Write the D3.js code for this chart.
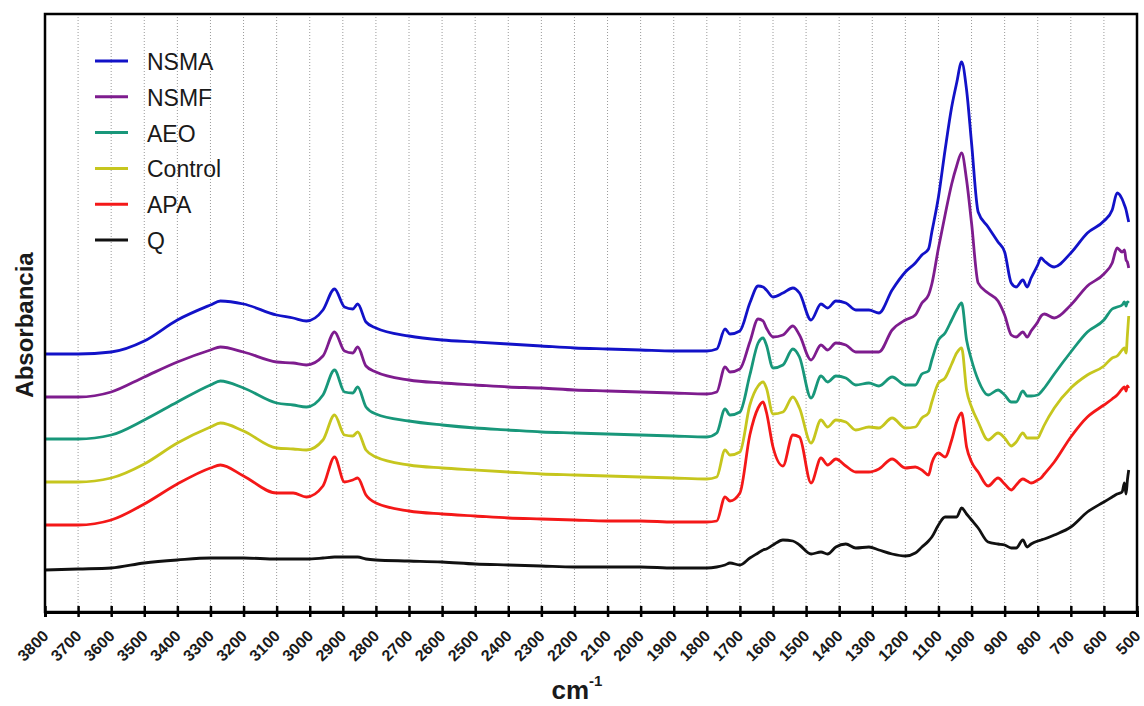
<!DOCTYPE html>
<html>
<head>
<meta charset="utf-8">
<script src="https://cdn.jsdelivr.net/npm/d3@7"></script>
<style>
    body { margin: 0; background: #fff; }
    text { font-family: Arial, "Liberation Sans", sans-serif; }
</style>
</head>
<body>
<script>
// wavenumber grid (cm-1), shared by all spectra
const wavenumbers = [3800, 3700, 3600, 3500, 3400, 3300, 3270, 3200, 3100, 3050, 3010, 2960, 2925, 2895, 2870, 2855, 2830, 2800, 2700, 2600, 2500, 2400, 2300, 2200, 2100, 2000, 1900, 1800, 1770, 1745, 1730, 1700, 1670, 1645, 1630, 1620, 1600, 1570, 1540, 1520, 1485, 1455, 1435, 1410, 1380, 1350, 1310, 1280, 1240, 1200, 1170, 1150, 1130, 1120, 1100, 1080, 1060, 1045, 1030, 1015, 1000, 980, 950, 920, 900, 880, 865, 845, 832, 820, 800, 790, 780, 750, 700, 650, 600, 575, 560, 545, 538, 533, 529, 525];

// stacked absorbance (arbitrary units, offset per sample)
const nsma = [258, 258, 260, 271, 292, 307, 311, 308, 297, 294, 291, 302, 323, 305, 303, 308, 290, 284, 276, 272, 270, 268, 266, 264, 263, 262, 261, 261, 263, 283, 278, 281, 309, 326, 325, 322, 315, 319, 324, 319, 292, 308, 304, 311, 309, 302, 302, 299, 322, 340, 349, 357, 363, 380, 415, 462, 505, 529, 550, 522, 469, 400, 385, 370, 360, 329, 325, 332, 325, 334, 347, 354, 351, 345, 359, 379, 391, 402, 419, 413, 407, 402, 396, 390];
const nsmf = [215, 215, 220, 235, 250, 262, 265, 260, 250, 249, 247, 256, 280, 261, 259, 265, 246, 240, 232, 229, 227, 225, 224, 222, 221, 220, 219, 218, 220, 245, 240, 243, 270, 293, 291, 284, 275, 277, 286, 277, 252, 267, 262, 269, 267, 260, 260, 260, 282, 292, 297, 309, 317, 328, 364, 397, 428, 446, 459, 432, 389, 329, 319, 311, 297, 277, 275, 280, 275, 281, 290, 296, 298, 294, 307, 326, 338, 349, 364, 360, 362, 352, 350, 344];
const aeo = [173, 173, 177, 192, 210, 227, 231, 224, 209, 207, 205, 217, 242, 220, 219, 225, 205, 198, 191, 187, 184, 182, 180, 179, 178, 177, 176, 175, 179, 203, 197, 200, 237, 269, 274, 267, 244, 247, 263, 255, 214, 236, 230, 236, 234, 227, 229, 226, 235, 227, 227, 238, 241, 252, 272, 279, 292, 302, 309, 272, 252, 232, 217, 222, 217, 210, 210, 221, 216, 216, 217, 220, 224, 238, 260, 280, 292, 303, 305, 307, 310, 306, 310, 309];
const control = [130, 130, 134, 148, 169, 185, 189, 181, 164, 163, 162, 172, 197, 177, 176, 180, 162, 155, 147, 144, 142, 140, 138, 137, 136, 135, 134, 133, 135, 162, 157, 160, 207, 226, 230, 224, 198, 200, 215, 204, 169, 192, 185, 192, 190, 182, 185, 184, 194, 184, 185, 194, 199, 210, 229, 234, 248, 259, 264, 222, 205, 190, 172, 179, 174, 166, 170, 179, 174, 174, 174, 180, 187, 204, 224, 237, 246, 254, 256, 262, 264, 259, 277, 296];
const apa = [87, 87, 92, 108, 128, 144, 147, 136, 119, 119, 115, 126, 155, 130, 132, 134, 117, 109, 101, 98, 96, 94, 93, 92, 91, 91, 90, 90, 91, 115, 111, 119, 177, 204, 210, 200, 165, 146, 177, 175, 129, 154, 147, 153, 146, 140, 140, 143, 153, 144, 145, 142, 137, 149, 159, 155, 172, 190, 199, 165, 150, 140, 126, 134, 128, 122, 127, 133, 131, 129, 132, 134, 138, 150, 175, 195, 207, 213, 217, 223, 225, 221, 226, 224];
const q = [42, 43, 44, 49, 52, 54, 54, 54, 53, 53, 53, 54, 55, 55, 55, 55, 53, 52, 51, 50, 48, 47, 46, 45, 45, 45, 44, 44, 45, 47, 49, 47, 54, 59, 62, 63, 67, 72, 71, 67, 58, 60, 58, 65, 68, 64, 65, 62, 58, 56, 59, 65, 71, 75, 87, 95, 95, 95, 104, 98, 92, 84, 70, 68, 67, 64, 64, 72, 65, 68, 71, 72, 73, 77, 85, 100, 110, 115, 118, 120, 129, 118, 132, 142];

const seriesNames = ['NSMA', 'NSMF', 'AEO', 'Control', 'APA', 'Q'];
const seriesValues = [nsma, nsmf, aeo, control, apa, q];
const seriesColors = ['#1212c8', '#7e1c8e', '#18977a', '#c6c61e', '#f41818', '#111111'];
const tickValues = d3.range(3800, 499, -100);

const pageWidth = 1144;
const pageHeight = 706;
const margin = {top: 14, right: 7, bottom: 94, left: 45};

function setup() {
    const svg = d3.select('body').append('svg')
        .attr('width', pageWidth)
        .attr('height', pageHeight);

    const x = d3.scaleLinear()
        .domain([3800, 500])
        .range([margin.left, pageWidth - margin.right]);

    const y = d3.scaleLinear()
        .domain([0, 598])
        .range([pageHeight - margin.bottom, margin.top]);

    const bottom = pageHeight - margin.bottom;

    // dotted vertical grid
    svg.append('g')
        .selectAll('line')
        .data(tickValues.slice(1, -1))
        .enter().append('line')
        .attr('x1', d => x(d))
        .attr('x2', d => x(d))
        .attr('y1', margin.top)
        .attr('y2', bottom)
        .attr('stroke', '#9a9a9a')
        .attr('stroke-width', 1)
        .attr('stroke-dasharray', '1,2');

    // spectra
    const line = d3.line()
        .x(d => x(d[0]))
        .y(d => y(d[1]))
        .curve(d3.curveMonotoneX);

    seriesValues.forEach((values, i) => {
        svg.append('path')
            .datum(values.map((v, j) => [wavenumbers[j], v]))
            .attr('fill', 'none')
            .attr('stroke', seriesColors[i])
            .attr('stroke-width', 2.8)
            .attr('stroke-linejoin', 'round')
            .attr('d', line);
    });

    // frame
    svg.append('rect')
        .attr('x', margin.left)
        .attr('y', margin.top)
        .attr('width', pageWidth - margin.right - margin.left)
        .attr('height', bottom - margin.top)
        .attr('fill', 'none')
        .attr('stroke', '#000')
        .attr('stroke-width', 2.5);

    // x axis
    const xAxis = d3.axisBottom(x)
        .tickValues(tickValues)
        .tickSize(5)
        .tickFormat(d3.format('d'));

    const gx = svg.append('g')
        .attr('transform', `translate(0,${bottom})`)
        .call(xAxis);

    gx.select('.domain')
        .attr('stroke-width', 3);

    gx.selectAll('.tick line')
        .attr('y1', -6)
        .attr('y2', 5)
        .attr('stroke-width', 2.5);

    gx.selectAll('.tick text')
        .attr('x', 0)
        .attr('y', 0)
        .attr('dy', null)
        .attr('transform', 'translate(4,25) rotate(-45)')
        .style('text-anchor', 'end')
        .style('font-size', '16px')
        .style('font-weight', 'bold')
        .attr('fill', '#1a1a1a');

    // axis titles
    const xTitle = svg.append('text')
        .attr('x', 577)
        .attr('y', 699)
        .attr('text-anchor', 'middle')
        .style('font-weight', 'bold')
        .attr('fill', '#1a1a1a');
    xTitle.append('tspan')
        .style('font-size', '26px')
        .text('cm');
    xTitle.append('tspan')
        .attr('dy', -13)
        .style('font-size', '15px')
        .text('-1');

    svg.append('text')
        .attr('transform', 'translate(33,325) rotate(-90)')
        .attr('text-anchor', 'middle')
        .style('font-size', '24px')
        .style('font-weight', 'bold')
        .attr('fill', '#1a1a1a')
        .text('Absorbancia');

    // legend
    const legend = svg.append('g');
    seriesNames.forEach((name, i) => {
        const ly = 61 + i * 35.8;
        legend.append('line')
            .attr('x1', 95)
            .attr('x2', 128)
            .attr('y1', ly)
            .attr('y2', ly)
            .attr('stroke', seriesColors[i])
            .attr('stroke-width', 3);
        legend.append('text')
            .attr('x', 147)
            .attr('y', ly + 9)
            .style('font-size', '23px')
            .attr('fill', '#1a1a1a')
            .text(name);
    });
}

setup();
</script>
</body>
</html>
